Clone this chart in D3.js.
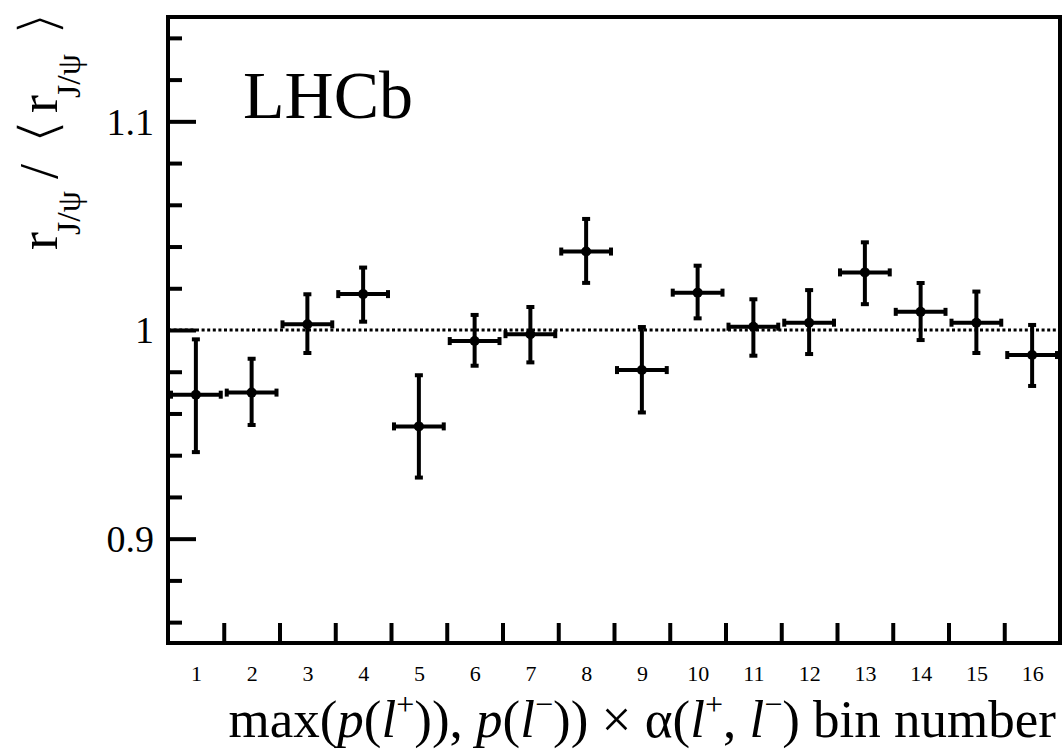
<!DOCTYPE html>
<html>
<head>
<meta charset="utf-8">
<script src="https://cdn.jsdelivr.net/npm/d3@7"></script>
<style>
  html, body { margin: 0; padding: 0; background: #fff; }
  svg { display: block; }
  text { font-family: "Liberation Serif", "DejaVu Serif", serif; fill: #000; }
</style>
</head>
<body>
<svg id="chart" width="1064" height="749"></svg>
<script>
// ---- data ----
const bins = [1, 2, 3, 4, 5, 6, 7, 8, 9, 10, 11, 12, 13, 14, 15, 16];
const ratio = [0.969, 0.970, 1.0027, 1.0172, 0.9538, 0.9947, 0.998, 1.0376, 0.9808, 1.0179, 1.0016, 1.0035, 1.0276, 1.0087, 1.0035, 0.988];
const errLow = [0.028, 0.016, 0.0142, 0.0137, 0.025, 0.0123, 0.014, 0.0155, 0.0208, 0.0128, 0.0144, 0.0155, 0.0157, 0.014, 0.015, 0.0153];
const errHigh = [0.027, 0.0167, 0.0149, 0.0132, 0.025, 0.013, 0.0135, 0.0161, 0.0211, 0.0134, 0.0136, 0.0161, 0.0149, 0.0143, 0.0154, 0.0149];
const yMajorTicks = [0.9, 1.0, 1.1];
const yMinorTicks = [0.86, 0.88, 0.92, 0.94, 0.96, 0.98, 1.02, 1.04, 1.06, 1.08, 1.12, 1.14];
const yTickLabels = ["0.9", "1", "1.1"];
const xBinEdges = [1.5, 2.5, 3.5, 4.5, 5.5, 6.5, 7.5, 8.5, 9.5, 10.5, 11.5, 12.5, 13.5, 14.5, 15.5];
const xTickLabels = ["1","2","3","4","5","6","7","8","9","10","11","12","13","14","15","16"];
const referenceLine = 1.0;

// ---- layout ----
const L = 168, R = 1060, T = 17, B = 643;
const svg = d3.select("#chart");
const x = d3.scaleLinear().domain([0.5, 16.5]).range([L, R]);
const y = d3.scaleLinear().domain([0.85, 1.15]).range([B, T]);
const lw = 4;

// dotted reference line
svg.append("line")
  .attr("x1", x(0.5)).attr("x2", x(16.5))
  .attr("y1", y(referenceLine)).attr("y2", y(referenceLine))
  .attr("stroke", "#000").attr("stroke-width", 3)
  .attr("stroke-dasharray", "3,2.6");

// y minor ticks (inside)
svg.append("g").attr("transform", `translate(${L},0)`)
  .call(d3.axisRight(y).tickValues(yMinorTicks).tickSize(14).tickFormat(""))
  .call(g => g.select(".domain").remove())
  .call(g => g.selectAll("line").attr("stroke", "#000").attr("stroke-width", lw));
// y major ticks
svg.append("g").attr("transform", `translate(${L},0)`)
  .call(d3.axisRight(y).tickValues(yMajorTicks).tickSize(28).tickFormat(""))
  .call(g => g.select(".domain").remove())
  .call(g => g.selectAll("line").attr("stroke", "#000").attr("stroke-width", lw));
// y labels
svg.append("g").attr("transform", `translate(${L},0)`)
  .call(d3.axisLeft(y).tickValues(yMajorTicks).tickSize(0).tickPadding(14)
        .tickFormat((d, i) => yTickLabels[i]))
  .call(g => g.select(".domain").remove())
  .call(g => g.selectAll("text").style("font-family", "Liberation Serif, serif")
        .style("font-size", "38px").attr("dy", "0.34em"));

// x ticks at bin edges (inside)
svg.append("g").attr("transform", `translate(0,${B})`)
  .call(d3.axisTop(x).tickValues(xBinEdges).tickSize(20).tickFormat(""))
  .call(g => g.select(".domain").remove())
  .call(g => g.selectAll("line").attr("stroke", "#000").attr("stroke-width", lw));
// x labels at bin centres
svg.append("g").attr("transform", `translate(0,${B})`)
  .call(d3.axisBottom(x).tickValues(bins).tickSize(0).tickPadding(22)
        .tickFormat((d, i) => xTickLabels[i]))
  .call(g => g.select(".domain").remove())
  .call(g => g.selectAll("text").style("font-family", "Liberation Serif, serif")
        .style("font-size", "22px"));

// frame
svg.append("rect")
  .attr("x", L).attr("y", T).attr("width", R - L).attr("height", B - T)
  .attr("fill", "none").attr("stroke", "#000").attr("stroke-width", lw);

// data points with error bars
const pts = svg.append("g");
bins.forEach((b, i) => {
  const cx = x(b), cy = y(ratio[i]);
  const x0 = x(b - 0.5), x1 = x(b + 0.5);
  const yt = y(ratio[i] + errHigh[i]), yb = y(ratio[i] - errLow[i]);
  const g = pts.append("g");
  g.append("line").attr("x1", x0 + 2).attr("x2", x1 - 2).attr("y1", cy).attr("y2", cy)
    .attr("stroke", "#000").attr("stroke-width", lw);
  g.append("line").attr("x1", cx).attr("x2", cx).attr("y1", yt).attr("y2", yb)
    .attr("stroke", "#000").attr("stroke-width", lw);
  g.append("rect").attr("x", x0 + 1).attr("y", cy - 4).attr("width", 4).attr("height", 8);
  g.append("rect").attr("x", x1 - 5).attr("y", cy - 4).attr("width", 4).attr("height", 8);
  g.append("rect").attr("x", cx - 4).attr("y", yt - 1).attr("width", 8).attr("height", 4);
  g.append("rect").attr("x", cx - 4).attr("y", yb - 3).attr("width", 8).attr("height", 4);
  g.append("circle").attr("cx", cx).attr("cy", cy).attr("r", 5).attr("fill", "#000");
});

// LHCb label
svg.append("text").attr("x", 243).attr("y", 118)
  .style("font-size", "68px").text("LHCb");

// y axis title (rotated group; u = -screenY, v = screenX - 57)
const yg = svg.append("g").attr("transform", "translate(57,0) rotate(-90)");
function piece(txt, u, v, size) {
  return yg.append("text").attr("x", u).attr("y", v).style("font-size", size + "px").text(txt);
}
piece("r", -250, 0, 54);
piece("J/ψ", -235, 23, 34);
piece("/", -179, 0, 54);
piece("r", -113, 0, 54);
piece("J/ψ", -98, 23, 34);
// angle brackets, glyph fitted into a box using canvas glyph metrics
const ctx = document.createElement("canvas").getContext("2d");
function bracket(txt, u0, u1, v0, v1) {
  const fam = "'DejaVu Sans', sans-serif";
  ctx.font = `60px ${fam}`;
  const m = ctx.measureText(txt);
  const gl = m.actualBoundingBoxLeft, gr = m.actualBoundingBoxRight;
  const ga = m.actualBoundingBoxAscent, gd = m.actualBoundingBoxDescent;
  const sx = (u1 - u0) / (gl + gr), sy = (v1 - v0) / (ga + gd);
  yg.append("text").style("font-family", fam).style("font-size", "60px").text(txt)
    .attr("stroke", "#fff").attr("stroke-width", 2.2)
    .attr("transform", `translate(${u0 + gl * sx},${v0 + ga * sy}) scale(${sx},${sy})`);
}
bracket("⟨", -139, -123, -42, 7);
bracket("⟩", -32, -16, -42, 7);

// x axis title
const xt = svg.append("text").attr("x", 1056).attr("y", 737)
  .attr("text-anchor", "end").style("font-size", "53px");
xt.append("tspan").text("max(");
xt.append("tspan").style("font-style", "italic").text("p");
xt.append("tspan").text("(");
xt.append("tspan").style("font-style", "italic").text("l");
xt.append("tspan").attr("dy", -22).style("font-size", "32px").text("+");
xt.append("tspan").attr("dy", 22).text(")), ");
xt.append("tspan").style("font-style", "italic").text("p");
xt.append("tspan").text("(");
xt.append("tspan").style("font-style", "italic").text("l");
xt.append("tspan").attr("dy", -22).style("font-size", "32px").text("−");
xt.append("tspan").attr("dy", 22).text(")) × α(");
xt.append("tspan").style("font-style", "italic").text("l");
xt.append("tspan").attr("dy", -22).style("font-size", "32px").text("+");
xt.append("tspan").attr("dy", 22).text(", ");
xt.append("tspan").style("font-style", "italic").text("l");
xt.append("tspan").attr("dy", -22).style("font-size", "32px").text("−");
xt.append("tspan").attr("dy", 22).text(") bin number");
</script>
</body>
</html>
